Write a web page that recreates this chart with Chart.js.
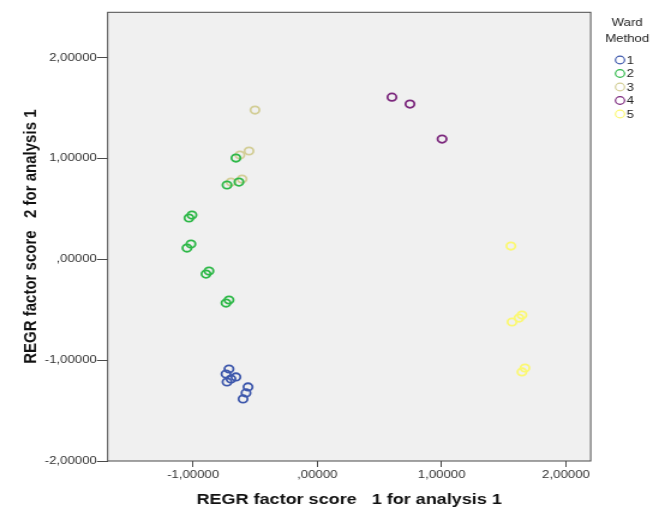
<!DOCTYPE html>
<html>
<head>
<meta charset="utf-8">
<script src="https://cdn.jsdelivr.net/npm/chart.js@4/dist/chart.umd.min.js"></script>
<style>
  html, body { margin: 0; padding: 0; background: #fff; }
  #c { display: block; }
</style>
</head>
<body>
<!-- the reference is a horizontally stretched SPSS export, so the canvas is drawn narrow and stretched -->
<canvas id="c" width="544" height="507" style="width:653px;height:507px"></canvas>
<script>
// ---- data ----
const clusterNames = ["1", "2", "3", "4", "5"];
const clusterColors = ["#3e58ac", "#2eb848", "#d3ce97", "#7c287d", "#fbf873"];

const c1X = [-0.711, -0.735, -0.655, -0.695, -0.727, -0.558, -0.574, -0.598];
const c1Y = [-1.088, -1.138, -1.167, -1.187, -1.217, -1.266, -1.325, -1.385];

const c2X = [-0.655, -0.631, -0.727, -1.009, -1.033, -1.017, -1.049, -0.872, -0.896, -0.711, -0.735];
const c2Y = [1.003, 0.765, 0.736, 0.438, 0.409, 0.151, 0.111, -0.117, -0.147, -0.404, -0.434];

const c3X = [-0.502, -0.550, -0.623, -0.606, -0.695];
const c3Y = [1.479, 1.073, 1.033, 0.795, 0.765];

const c4X = [0.600, 0.745, 1.003];
const c4Y = [1.607, 1.538, 1.191];

const c5X = [1.557, 1.646, 1.622, 1.566, 1.670, 1.646];
const c5Y = [0.131, -0.553, -0.583, -0.622, -1.078, -1.117];

const xTickValues = [-1, 0, 1, 2];
const xTickLabels = ["-1,00000", ",00000", "1,00000", "2,00000"];
const yTickValues = [-2, -1, 0, 1, 2];
const yTickLabels = ["-2,00000", "-1,00000", ",00000", "1,00000", "2,00000"];

const xTitle = "REGR factor score   1 for analysis 1";
const yTitle = "REGR factor score   2 for analysis 1";
const legendTitle = ["Ward", "Method"];

const FONT = "'Liberation Sans', Arial, sans-serif";

const pairs = (xs, ys) => xs.map((x, i) => ({ x: x, y: ys[i] }));
const allX = [c1X, c2X, c3X, c4X, c5X];
const allY = [c1Y, c2Y, c3Y, c4Y, c5Y];

const datasets = clusterNames.map((name, i) => ({
    label: name,
    data: pairs(allX[i], allY[i]),
    pointStyle: "circle",
    pointRadius: 3.7,
    pointBorderWidth: 1.8,
    pointBackgroundColor: "rgba(0,0,0,0)",
    pointBorderColor: clusterColors[i],
    showLine: false,
}));

// grey plot box and its frame
const framePlugin = {
    id: "frame",
    beforeDatasetsDraw(chart) {
        const a = chart.chartArea, ctx = chart.ctx;
        ctx.save();
        ctx.fillStyle = "#f0f0f0";
        ctx.fillRect(a.left, a.top, a.right - a.left, a.bottom - a.top);
        ctx.restore();
    },
    afterDraw(chart) {
        const a = chart.chartArea, ctx = chart.ctx;
        ctx.save();
        ctx.strokeStyle = "#4a4a4a";
        ctx.lineWidth = 1;
        ctx.strokeRect(a.left, a.top, a.right - a.left, a.bottom - a.top);
        ctx.restore();
    },
};

// SPSS style legend at the right
const legendPlugin = {
    id: "wardLegend",
    afterDraw(chart) {
        const ctx = chart.ctx;
        ctx.save();
        ctx.font = "11px " + FONT;
        ctx.fillStyle = "#222";
        ctx.textAlign = "center";
        ctx.textBaseline = "middle";
        ctx.fillText(legendTitle[0], 522.5, 23);
        ctx.fillText(legendTitle[1], 522.5, 39);
        ctx.textAlign = "left";
        chart.data.datasets.forEach((ds, i) => {
            const y = 60 + i * 13.5;
            ctx.beginPath();
            ctx.arc(516.5, y, 3.8, 0, Math.PI * 2);
            ctx.strokeStyle = ds.pointBorderColor;
            ctx.lineWidth = 1.2;
            ctx.stroke();
            ctx.fillText(ds.label, 522, y + 0.5);
        });
        ctx.restore();
    },
};

new Chart(document.getElementById("c"), {
    type: "scatter",
    data: { datasets: datasets },
    plugins: [framePlugin, legendPlugin],
    options: {
        responsive: false,
        animation: false,
        devicePixelRatio: 1,
        layout: { padding: { top: 12.3, right: 51.9, bottom: 0, left: 0 } },
        plugins: {
            legend: { display: false },
            tooltip: { enabled: false },
        },
        scales: {
            x: {
                type: "linear",
                min: -1.687,
                max: 2.199,
                afterFit: s => { s.height = 46; },
                afterBuildTicks: s => { s.ticks = xTickValues.map(v => ({ value: v })); },
                border: { display: false },
                grid: { drawOnChartArea: false, drawTicks: true, tickLength: 6, color: "#4a4a4a" },
                ticks: {
                    padding: 1,
                    maxRotation: 0,
                    color: "#333",
                    font: { family: FONT, size: 11 },
                    callback: v => xTickLabels[xTickValues.indexOf(v)],
                },
                title: {
                    display: true,
                    text: xTitle,
                    color: "#111",
                    font: { family: FONT, size: 15, weight: "bold", lineHeight: 1 },
                    padding: { top: 0, bottom: 0 },
                },
            },
            y: {
                type: "linear",
                min: -2,
                max: 2.448,
                afterFit: s => { s.width = 89.7; },
                afterBuildTicks: s => { s.ticks = yTickValues.map(v => ({ value: v })); },
                border: { display: false },
                grid: { drawOnChartArea: false, drawTicks: true, tickLength: 9, color: "#4a4a4a" },
                ticks: {
                    padding: 0,
                    color: "#333",
                    font: { family: FONT, size: 11 },
                    callback: v => yTickLabels[yTickValues.indexOf(v)],
                },
                title: {
                    display: true,
                    text: yTitle,
                    color: "#111",
                    font: { family: FONT, size: 15, weight: "bold", lineHeight: 1 },
                    padding: { top: 18, bottom: 0 },
                },
            },
        },
    },
});
</script>
</body>
</html>
